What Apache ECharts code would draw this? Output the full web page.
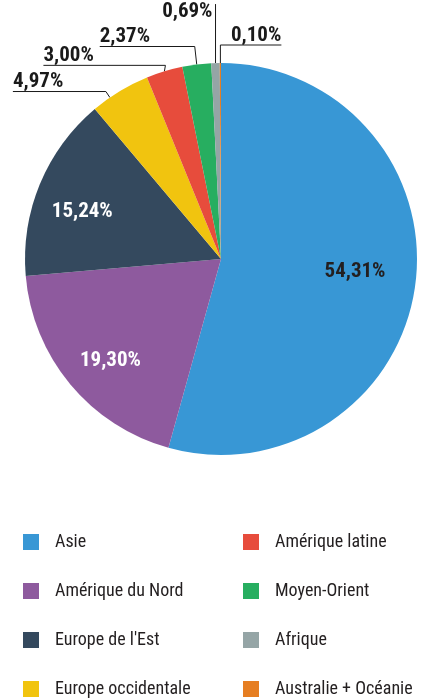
<!DOCTYPE html>
<html>
<head>
<meta charset="utf-8">
<script src="https://cdn.jsdelivr.net/npm/echarts@6/dist/echarts.min.js"></script>
<style>
  html, body { margin: 0; padding: 0; background: #fff; }
  #chart { width: 432px; height: 700px; }
</style>
</head>
<body>
<div id="chart"></div>
<script>
// data
var regions = ['Asie', 'Amérique du Nord', "Europe de l'Est", 'Europe occidentale',
               'Amérique latine', 'Moyen-Orient', 'Afrique', 'Australie + Océanie'];
var shares = [54.31, 19.30, 15.24, 4.97, 3.00, 2.37, 0.69, 0.10];
var legendLeft = ['Asie', 'Amérique du Nord', "Europe de l'Est", 'Europe occidentale'];
var legendRight = ['Amérique latine', 'Moyen-Orient', 'Afrique', 'Australie + Océanie'];

var colors = ['#3897d5', '#8e5a9e', '#34495e', '#f1c40f', '#e74c3c', '#27ae60', '#95a5a6', '#e67e22'];
var FONT = "'Roboto Condensed', 'Liberation Sans Narrow', Roboto, sans-serif";
var CX = 221, CY = 259, R = 196;

// inside labels: push out from the default spot (k) and turn a little (deg)
var innerPos = {
    0: { k: 1.333, deg: -2.3 },
    1: { k: 1.485, deg: -2.8 },
    2: { k: 1.45, deg: -3.8 }
};
// outside labels: leader starts on the rim (turned by deg), goes up, then runs sideways (negative = left)
var leader = {
    3: { deg: -3.4, dx: -4, rise: 6, run: -93 },
    4: { deg: 0, dx: 1, rise: 6, run: -122 },
    5: { deg: 0, dx: -2, rise: 18, run: -95 },
    6: { deg: 0, dx: 0, rise: 59, run: 0 },
    7: { deg: 0, dx: 0, rise: 18, run: 61 }
};

function turn(pt, deg, k) {
    var a = deg * Math.PI / 180;
    var x = pt[0] - CX, y = pt[1] - CY;
    return [CX + k * (x * Math.cos(a) - y * Math.sin(a)),
            CY + k * (x * Math.sin(a) + y * Math.cos(a))];
}

var dom = document.getElementById('chart');
var myChart = echarts.init(dom, null, { renderer: 'canvas' });

var seriesData = regions.map(function (name, i) {
    var item = { name: name, value: shares[i], itemStyle: { color: colors[i] } };
    if (leader[i]) {
        item.label = { position: 'outside', color: '#1a1a1a' };
        item.labelLine = { show: true, length: 10, length2: 10 };
    } else {
        item.label = { position: 'inside', color: i === 0 ? '#231f20' : '#ffffff' };
        item.labelLine = { show: false };
    }
    return item;
});

function legendOf(list, left) {
    return {
        data: list,
        orient: 'vertical',
        left: left,
        top: 533,
        height: 200,
        padding: 0,
        itemWidth: 16,
        itemHeight: 16,
        itemGap: 31,
        icon: 'rect',
        selectedMode: false,
        textStyle: {
            fontFamily: FONT,
            fontSize: 18,
            lineHeight: 16,
            color: '#231f20',
            padding: [0, 0, 0, 11]
        }
    };
}

var option = {
    animation: false,
    color: colors,
    legend: [legendOf(legendLeft, 23), legendOf(legendRight, 243)],
    series: [{
        type: 'pie',
        center: [CX, CY],
        radius: [0, R],
        startAngle: 90,
        clockwise: true,
        avoidLabelOverlap: false,
        silent: true,
        label: {
            show: true,
            fontFamily: FONT,
            fontSize: 21,
            fontWeight: 'bold',
            formatter: function (p) { return p.value.toFixed(2).replace('.', ',') + '%'; }
        },
        labelLine: { lineStyle: { color: '#1a1a1a', width: 1 } },
        labelLayout: function (params) {
            var i = params.dataIndex;
            var r = params.labelRect;
            if (innerPos[i]) {
                var c = turn([r.x + r.width / 2, r.y + r.height / 2], innerPos[i].deg, innerPos[i].k);
                return { x: c[0], y: c[1], align: 'center', verticalAlign: 'middle' };
            }
            var cfg = leader[i];
            var p0 = turn(params.labelLinePoints[0], cfg.deg, 1);
            var bend = [p0[0] + cfg.dx, p0[1] - cfg.rise];
            if (cfg.run === 0) {
                return {
                    x: bend[0] - 3,
                    y: bend[1] - 3,
                    align: 'right',
                    verticalAlign: 'top',
                    labelLinePoints: [p0, bend]
                };
            }
            var end = [bend[0] + cfg.run, bend[1]];
            return {
                x: end[0],
                y: bend[1] + 1,
                align: cfg.run < 0 ? 'left' : 'right',
                verticalAlign: 'bottom',
                labelLinePoints: [p0, bend, end]
            };
        },
        data: seriesData
    }]
};

myChart.setOption(option);
window.addEventListener('resize', myChart.resize);
</script>
</body>
</html>
